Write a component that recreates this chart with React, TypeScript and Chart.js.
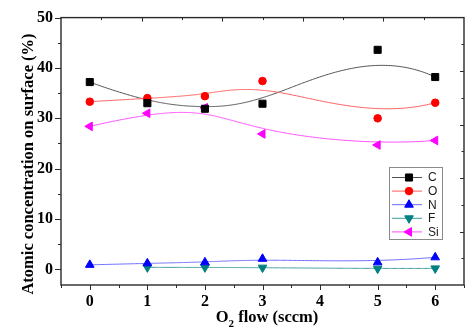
import React, { useEffect, useRef } from 'react';
import { Chart, registerables } from 'chart.js';

Chart.register(...registerables);

// ---- data ----
const flow = [0, 1, 2, 3, 5, 6];
const cVals = [37.2, 33.0, 31.9, 32.9, 43.6, 38.2];
const oVals = [33.3, 34.0, 34.4, 37.4, 30.0, 33.1];
const nVals = [0.9, 1.2, 1.4, 2.1, 1.4, 2.4];
const fVals: (number | null)[] = [null, 0.4, 0.4, 0.35, 0.15, 0.2];
const siVals = [28.4, 31.0, 32.1, 26.9, 24.7, 25.6];
const seriesNames = ['C', 'O', 'N', 'F', 'Si'];
const xTicks = [0, 1, 2, 3, 4, 5, 6];
const yTicks = [0, 10, 20, 30, 40, 50];
const yTitle = 'Atomic concentration on surface (%)';
const xTitleMain = 'O';
const xTitleSub = '2';
const xTitleRest = ' flow (sccm)';

type Pt = { x: number; y: number };

function toPoints(vals: (number | null)[]): Pt[] {
  const out: Pt[] = [];
  flow.forEach((x, i) => {
    const v = vals[i];
    if (v !== null && v !== undefined) out.push({ x, y: v });
  });
  return out;
}

// clamped B-spline (Origin-style "B-Spline" connection) through control points
function bspline(pts: Pt[], samples: number): Pt[] {
  const n = pts.length - 1;
  if (n < 1) return pts;
  const p = Math.min(3, n);
  const knots: number[] = [];
  for (let i = 0; i <= n + p + 1; i++) {
    if (i <= p) knots.push(0);
    else if (i >= n + 1) knots.push(1);
    else knots.push((i - p) / (n - p + 1));
  }
  const out: Pt[] = [];
  for (let s = 0; s <= samples; s++) {
    const t = s / samples;
    let k = p;
    if (t >= 1) k = n;
    else {
      for (let i = p; i <= n; i++) {
        if (t >= knots[i] && t < knots[i + 1]) { k = i; break; }
      }
    }
    const d: Pt[] = [];
    for (let j = 0; j <= p; j++) d.push({ ...pts[j + k - p] });
    for (let r = 1; r <= p; r++) {
      for (let j = p; j >= r; j--) {
        const den = knots[j + 1 + k - r] - knots[j + k - p];
        const a = den === 0 ? 0 : (t - knots[j + k - p]) / den;
        d[j] = { x: (1 - a) * d[j - 1].x + a * d[j].x, y: (1 - a) * d[j - 1].y + a * d[j].y };
      }
    }
    out.push(d[p]);
  }
  return out;
}

function drawMarker(ctx: CanvasRenderingContext2D, style: string, rot: number, x: number, y: number, r: number, color: string) {
  ctx.save();
  ctx.fillStyle = color;
  ctx.strokeStyle = color;
  ctx.lineWidth = 1;
  ctx.translate(x, y);
  ctx.rotate((rot * Math.PI) / 180);
  ctx.beginPath();
  if (style === 'rect') {
    const s = Math.SQRT1_2 * r;
    ctx.rect(-s, -s, 2 * s, 2 * s);
  } else if (style === 'circle') {
    ctx.arc(0, 0, r, 0, Math.PI * 2);
  } else {
    for (let i = 0; i < 3; i++) {
      const ang = -Math.PI / 2 + (i * 2 * Math.PI) / 3;
      const px = Math.cos(ang) * r;
      const py = Math.sin(ang) * r;
      if (i === 0) ctx.moveTo(px, py); else ctx.lineTo(px, py);
    }
    ctx.closePath();
  }
  ctx.fill();
  ctx.stroke();
  ctx.restore();
}

const splinePlugin = {
  id: 'bsplineLines',
  beforeDatasetsDraw(chart: any) {
    const { ctx, chartArea } = chart;
    const xs = chart.scales.x;
    const ys = chart.scales.y;
    ctx.save();
    ctx.beginPath();
    ctx.rect(chartArea.left, chartArea.top, chartArea.right - chartArea.left, chartArea.bottom - chartArea.top);
    ctx.clip();
    chart.data.datasets.forEach((ds: any) => {
      const curve = bspline(ds.data as Pt[], 300);
      ctx.beginPath();
      curve.forEach((p, i) => {
        const px = xs.getPixelForValue(p.x);
        const py = ys.getPixelForValue(p.y);
        if (i === 0) ctx.moveTo(px, py); else ctx.lineTo(px, py);
      });
      ctx.strokeStyle = ds.lineColor;
      ctx.lineWidth = 1;
      ctx.stroke();
    });
    ctx.restore();
  },
};

const framePlugin = {
  id: 'frameAndDecor',
  afterDraw(chart: any) {
    const { ctx, chartArea } = chart;
    const { left, right, top, bottom } = chartArea;
    const xs = chart.scales.x;
    const ys = chart.scales.y;
    ctx.save();
    ctx.strokeStyle = '#2a2a2a';
    ctx.lineWidth = 1.4;
    ctx.strokeRect(left, top, right - left, bottom - top);
    ctx.lineWidth = 1;
    ctx.beginPath();
    // bottom axis ticks (outward), major at integers, minor at halves
    for (let v = xs.min; v <= xs.max + 1e-6; v += 0.5) {
      const px = Math.round(xs.getPixelForValue(v)) + 0.5;
      const major = Math.abs(v - Math.round(v)) < 1e-6;
      ctx.moveTo(px, bottom);
      ctx.lineTo(px, bottom + (major ? 5 : 3));
    }
    // left axis ticks (outward), major every 10, minor every 5
    for (let v = 0; v <= 50; v += 5) {
      const py = Math.round(ys.getPixelForValue(v)) + 0.5;
      const major = v % 10 === 0;
      ctx.moveTo(left, py);
      ctx.lineTo(left - (major ? 6 : 3), py);
    }
    // top axis ticks (inward), 10 divisions
    for (let i = 1; i < 10; i++) {
      const px = Math.round(left + ((right - left) * i) / 10) + 0.5;
      ctx.moveTo(px, top);
      ctx.lineTo(px, top + (i % 2 === 0 ? 4 : 2.5));
    }
    // right axis ticks (inward), 10 divisions
    for (let i = 1; i < 10; i++) {
      const py = Math.round(top + ((bottom - top) * i) / 10) + 0.5;
      ctx.moveTo(right, py);
      ctx.lineTo(right - (i % 2 === 0 ? 4 : 2.5), py);
    }
    ctx.stroke();

    // axis titles
    ctx.fillStyle = '#000';
    ctx.font = 'bold 16.5px "Liberation Serif", serif';
    ctx.save();
    ctx.translate(33, 164);
    ctx.rotate(-Math.PI / 2);
    ctx.textAlign = 'center';
    ctx.textBaseline = 'alphabetic';
    ctx.fillText(yTitle, 0, 0);
    ctx.restore();

    ctx.textAlign = 'left';
    ctx.textBaseline = 'alphabetic';
    ctx.font = 'bold 16.5px "Liberation Serif", serif';
    const wMain = ctx.measureText(xTitleMain).width;
    const wRest = ctx.measureText(xTitleRest).width;
    ctx.font = 'bold 11px "Liberation Serif", serif';
    const wSub = ctx.measureText(xTitleSub).width;
    const total = wMain + wSub + wRest;
    let x0 = 267 - total / 2;
    const base = 322;
    ctx.font = 'bold 16.5px "Liberation Serif", serif';
    ctx.fillText(xTitleMain, x0, base);
    x0 += wMain;
    ctx.font = 'bold 11px "Liberation Serif", serif';
    ctx.fillText(xTitleSub, x0, base + 5);
    x0 += wSub;
    ctx.font = 'bold 16.5px "Liberation Serif", serif';
    ctx.fillText(xTitleRest, x0, base);

    // legend box
    const lx = 389, ly = 167, lw = 53, lh = 72;
    ctx.strokeStyle = '#8a8a8a';
    ctx.lineWidth = 1;
    ctx.strokeRect(lx + 0.5, ly + 0.5, lw, lh);
    ctx.font = '12px "Liberation Sans", Arial, sans-serif';
    ctx.textBaseline = 'middle';
    chart.data.datasets.forEach((ds: any, i: number) => {
      const ry = ly + 10 + i * 13.6;
      ctx.beginPath();
      ctx.moveTo(lx + 3, ry + 0.5);
      ctx.lineTo(lx + 33, ry + 0.5);
      ctx.strokeStyle = ds.lineColor;
      ctx.lineWidth = 1;
      ctx.stroke();
      drawMarker(ctx, ds.pointStyle, ds.pointRotation || 0, lx + 20, ry + 0.5, ds.pointRadius, ds.pointBackgroundColor);
      ctx.fillStyle = '#1a1a1a';
      ctx.fillText(ds.label, lx + 39, ry + 1);
    });
    ctx.restore();
  },
};

export default function App() {
  const ref = useRef<HTMLCanvasElement | null>(null);

  useEffect(() => {
    if (!ref.current) return;
    const valsList = [cVals, oVals, nVals, fVals, siVals];
    const markerColors = ['#000000', '#ff0000', '#0000ff', '#008080', '#ff00ff'];
    const lineColors = ['#505050', '#ff5c5c', '#6a6aff', '#3f9c9c', '#ff4cff'];
    const styles = ['rect', 'circle', 'triangle', 'triangle', 'triangle'];
    const rotations = [0, 0, 0, 180, -90];
    const radii = [5, 3.8, 5, 5, 5];
    const datasets = valsList.map((vals, i) => ({
      label: seriesNames[i],
      data: toPoints(vals),
      showLine: false,
      pointStyle: styles[i],
      pointRotation: rotations[i],
      pointRadius: radii[i],
      pointBackgroundColor: markerColors[i],
      pointBorderColor: markerColors[i],
      pointBorderWidth: 1,
      borderColor: markerColors[i],
      backgroundColor: markerColors[i],
      lineColor: lineColors[i],
    }));

    const chart = new Chart(ref.current, {
      type: 'scatter',
      data: { datasets: datasets as any },
      options: {
        animation: false,
        responsive: false,
        devicePixelRatio: 1,
        layout: { padding: { top: 17, right: 10, left: 0, bottom: 0 } },
        plugins: { legend: { display: false }, tooltip: { enabled: false } },
        scales: {
          x: {
            type: 'linear',
            min: -0.5,
            max: 6.5,
            grid: { display: false, drawTicks: false },
            border: { display: false },
            afterBuildTicks: (s: any) => { s.ticks = xTicks.map((v) => ({ value: v })); },
            afterFit: (s: any) => { s.height = 50; },
            ticks: {
              padding: 7,
              color: '#000',
              font: { family: '"Liberation Serif", serif', size: 16, weight: 'bold' },
              maxRotation: 0,
            },
          },
          y: {
            type: 'linear',
            min: -3.1,
            max: 50,
            grid: { display: false, drawTicks: false },
            border: { display: false },
            afterBuildTicks: (s: any) => { s.ticks = yTicks.map((v) => ({ value: v })); },
            afterFit: (s: any) => { s.width = 61; },
            ticks: {
              padding: 8,
              color: '#000',
              font: { family: '"Liberation Serif", serif', size: 16, weight: 'bold' },
            },
          },
        },
      },
      plugins: [splinePlugin, framePlugin],
    });
    return () => chart.destroy();
  }, []);

  return (
    <div style={{ position: 'fixed', left: 0, top: 0, width: 474, height: 335, background: '#fff' }}>
      <canvas ref={ref} width={474} height={335} style={{ display: 'block', width: 474, height: 335 }} />
    </div>
  );
}
